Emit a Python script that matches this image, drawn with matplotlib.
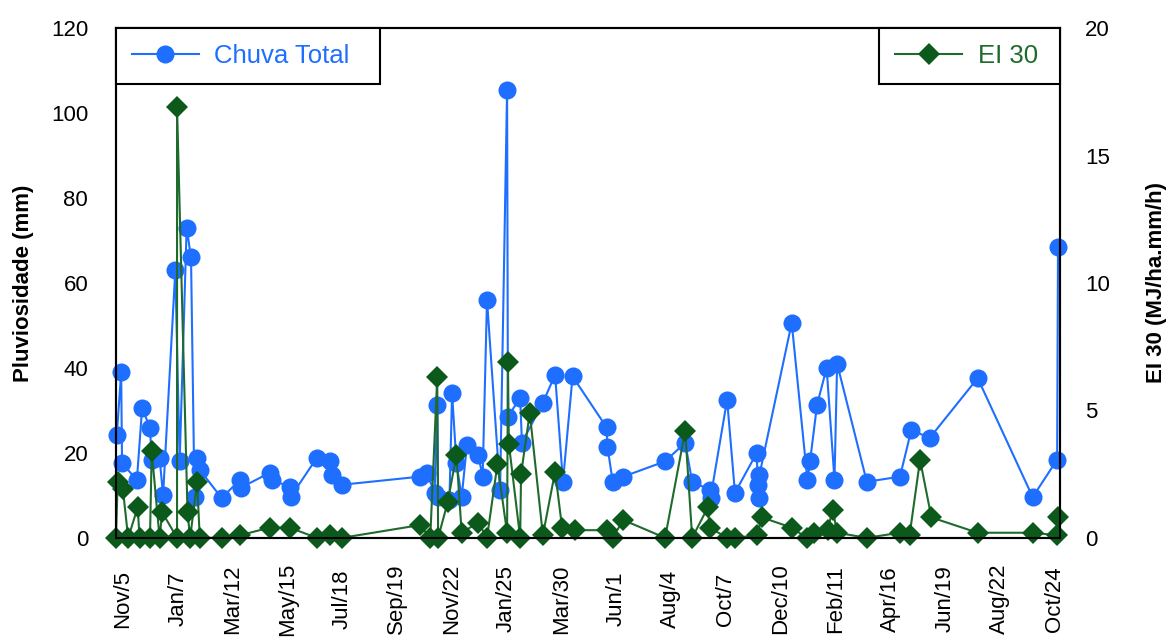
import matplotlib.pyplot as plt
import numpy as np

plt.rcParams['font.family'] = ['Liberation Sans', 'DejaVu Sans']

# dias contados a partir de 5/nov
chuva_dias = [1, 6, 7, 24, 30, 39, 41, 50, 54, 68, 73, 81, 86, 90, 93, 96,
              121, 142, 143, 176, 179, 199, 200, 230, 245, 248, 259,
              348, 356, 365, 368, 369, 382, 385, 390, 396, 402, 415, 420,
              425, 440, 448, 449, 463, 465, 489, 503, 512, 523, 562, 563,
              569, 581, 629, 652, 660, 680, 681, 700, 709, 734, 735, 736,
              737, 774, 792, 795, 803, 814, 823, 826, 860, 898, 911, 932,
              987, 1050, 1078, 1079]
chuva_mm = [24.2, 39.0, 17.6, 13.6, 30.6, 25.9, 18.4, 18.8, 10.0, 63.0, 18.0,
            73.0, 66.0, 9.6, 18.8, 16.0,
            9.4, 13.6, 11.8, 15.3, 13.6, 12.0, 9.6, 18.8, 18.0, 14.8, 12.5,
            14.4, 15.3, 10.6, 31.3, 9.6, 8.9, 34.0, 17.6, 9.6, 21.9, 19.5, 14.4,
            56.0, 11.3, 105.4, 28.5, 33.0, 22.4, 31.8, 38.4, 13.2, 38.0, 26.0, 21.4,
            13.2, 14.4, 18.0, 22.4, 13.2, 11.3, 9.4, 32.5, 10.6, 20.0, 12.5, 9.4,
            14.8, 50.6, 13.6, 18.0, 31.3, 40.0, 13.6, 41.0, 13.2, 14.4, 25.4, 23.5,
            37.6, 9.6, 18.4, 68.5]

ei_dias = [0, 2, 8, 14, 25, 27, 39, 41, 50, 53, 70, 70, 82, 85, 93, 96,
           121, 142, 176, 199, 230, 245, 259,
           348, 360, 368, 369, 380, 390, 396, 415, 425, 437, 448, 449, 450,
           463, 464, 474, 489, 503, 511, 526, 562, 569, 581, 629, 652, 660,
           678, 680, 700, 709, 734, 740, 774, 791, 800, 815, 821, 826, 860,
           898, 909, 921, 934, 987, 1050, 1078, 1079]
ei30 = [0.0, 2.2, 1.9, 0.0, 1.2, 0.0, 0.0, 3.4, 0.0, 1.0, 0.0, 16.9, 1.0, 0.0, 2.2, 0.0,
        0.0, 0.1, 0.4, 0.4, 0.0, 0.1, 0.0,
        0.5, 0.0, 6.3, 0.0, 1.4, 3.25, 0.2, 0.6, 0.0, 2.9, 0.2, 6.9, 3.7,
        0.0, 2.5, 4.9, 0.1, 2.6, 0.4, 0.3, 0.3, 0.0, 0.7, 0.0, 4.2, 0.0,
        1.2, 0.4, 0.0, 0.0, 0.1, 0.8, 0.4, 0.0, 0.2, 0.3, 1.1, 0.2, 0.0,
        0.2, 0.1, 3.06, 0.8, 0.2, 0.2, 0.1, 0.8]

rotulos = ['Nov/5', 'Jan/7', 'Mar/12', 'May/15', 'Jul/18', 'Sep/19', 'Nov/22',
           'Jan/25', 'Mar/30', 'Jun/1', 'Aug/4', 'Oct/7', 'Dec/10', 'Feb/11',
           'Apr/16', 'Jun/19', 'Aug/22', 'Oct/24']

azul = '#1e6eff'
verde_linha = '#1f6b2d'
verde = '#0b5a1c'

fig = plt.figure(figsize=(11.71, 6.38), dpi=100)
ax = fig.add_axes([0.099, 0.157, 0.806, 0.799])
ax2 = ax.twinx()

l1, = ax.plot(chuva_dias, chuva_mm, '-o', color=azul, lw=1.5, markersize=13,
              markeredgewidth=0, label='Chuva Total', clip_on=False)
l2, = ax2.plot(ei_dias, ei30, '-D', color=verde_linha, lw=1.5, markersize=11,
               markerfacecolor=verde, markeredgewidth=0, label='EI 30', clip_on=False)

ax.set_xlim(0, 1081)
ax.set_ylim(0, 120)
ax2.set_ylim(0, 20)
ax.set_yticks(range(0, 121, 20))
ax2.set_yticks(range(0, 21, 5))

ax.set_xticks(np.linspace(8, 1075, len(rotulos)))
ax.set_xticklabels(rotulos, rotation=90, va='center', fontsize=16)
ax.tick_params(axis='x', length=0, pad=44)
ax.tick_params(axis='y', length=0, pad=20, labelsize=16)
ax2.tick_params(axis='y', length=0, pad=18, labelsize=16)

ax.set_ylabel('Pluviosidade (mm)', fontsize=16, fontweight='bold', labelpad=12)
ax2.set_ylabel('EI 30 (MJ/ha.mm/h)', fontsize=16, fontweight='bold', labelpad=26)

for a in (ax, ax2):
    for s in a.spines.values():
        s.set_linewidth(1.5)
        s.set_color('black')

estilo_leg = dict(mode='expand', borderaxespad=0, fancybox=False, edgecolor='black',
                  framealpha=1, fontsize=18.5, handlelength=2.6, borderpad=0.62,
                  handletextpad=0.6)
leg1 = ax2.legend(handles=[l1], loc='upper left', bbox_to_anchor=(0, 1.0, 0.28, 0),
                  labelcolor=azul, **estilo_leg)
leg1.get_frame().set_linewidth(1.5)
ax2.add_artist(leg1)
leg2 = ax2.legend(handles=[l2], loc='upper right', bbox_to_anchor=(0.809, 1.0, 0.191, 0),
                  labelcolor=verde_linha, **estilo_leg)
leg2.get_frame().set_linewidth(1.5)

fig.savefig('out.png', dpi=100)
